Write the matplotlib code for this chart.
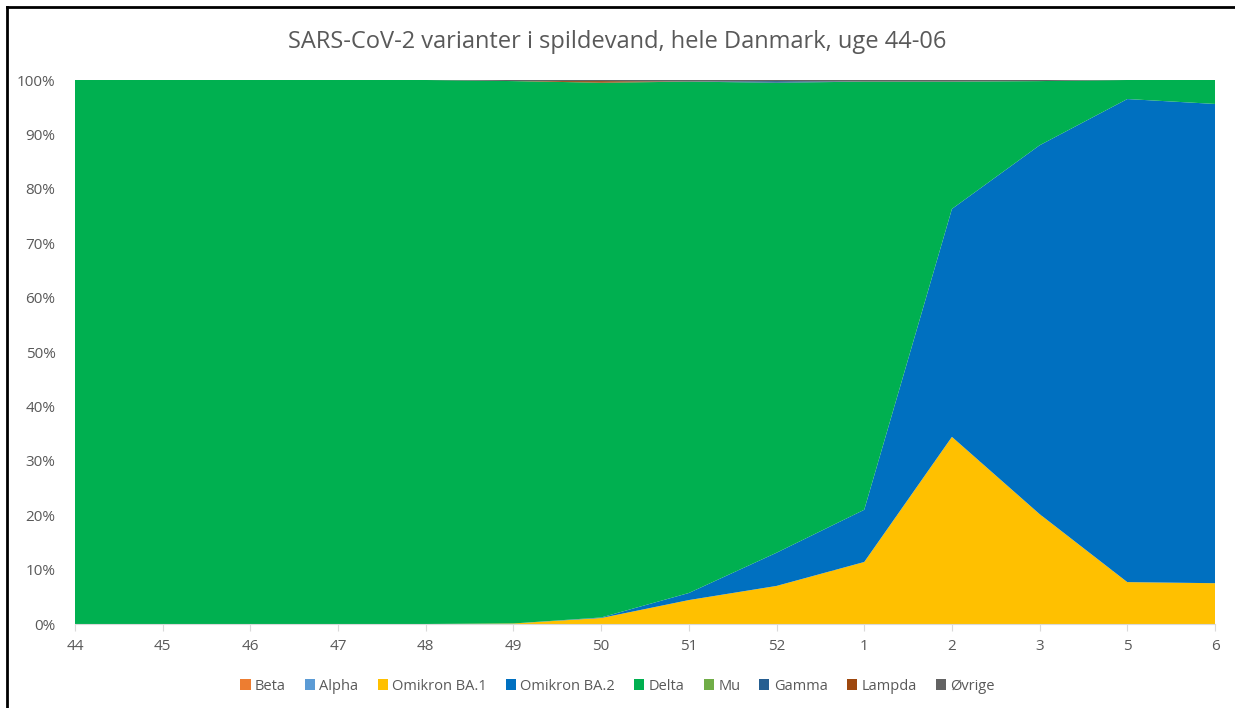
import matplotlib.pyplot as plt
import numpy as np
from matplotlib.lines import Line2D
from matplotlib.patches import Patch

weeks = ["44", "45", "46", "47", "48", "49", "50", "51", "52", "1", "2", "3", "5", "6"]

beta = [0, 0, 0, 0, 0, 0, 0, 0, 0, 0, 0, 0, 0, 0]
alpha = [0, 0, 0, 0, 0, 0, 0, 0, 0, 0, 0, 0, 0, 0]
ba1 = [0, 0, 0, 0, 0, 0.1, 1.1, 4.4, 7.0, 11.4, 34.4, 20.2, 7.7, 7.5]
ba2 = [0, 0, 0, 0, 0, 0, 0.1, 1.3, 6.1, 9.6, 41.9, 67.8, 88.8, 88.1]
delta = [100, 100, 100, 100, 100, 99.7, 98.3, 94.0, 86.4, 78.7, 23.4, 11.8, 3.5, 4.4]
mu = [0, 0, 0, 0, 0, 0, 0, 0, 0, 0, 0, 0, 0, 0]
gamma = [0, 0, 0, 0, 0, 0, 0, 0, 0.3, 0, 0, 0, 0, 0]
lampda = [0, 0, 0, 0, 0, 0, 0.3, 0, 0, 0, 0, 0, 0, 0]
ovrige = [0, 0, 0, 0, 0, 0.2, 0.2, 0.3, 0.2, 0.3, 0.3, 0.2, 0, 0]

labels = ["Beta", "Alpha", "Omikron BA.1", "Omikron BA.2", "Delta", "Mu", "Gamma", "Lampda", "Øvrige"]
colors = ["#ED7D31", "#5B9BD5", "#FFC000", "#0070C0", "#00B050", "#70AD47", "#255E91", "#9E480E", "#636363"]

series = [beta, alpha, ba1, ba2, delta, mu, gamma, lampda, ovrige]

plt.rcParams["font.family"] = ["Open Sans", "DejaVu Sans"]

fig = plt.figure(figsize=(12.35, 7.08), dpi=100)
ax = fig.add_axes([75 / 1235, 1 - 624 / 708, 1140 / 1235, 544 / 708])

x = np.arange(len(weeks))
ax.stackplot(x, *series, colors=colors, linewidth=0)

ax.set_xlim(0, len(weeks) - 1)
ax.set_ylim(0, 100)
ax.set_yticks(np.arange(0, 101, 10))
ax.set_yticklabels([f"{v}%" for v in range(0, 101, 10)])
ax.set_xticks(x)
ax.set_xticklabels(weeks)

ax.grid(axis="y", color="#D9D9D9", linewidth=0.8)
ax.set_axisbelow(True)
for s in ["top", "right", "left"]:
    ax.spines[s].set_visible(False)
ax.spines["bottom"].set_color("#D9D9D9")
ax.tick_params(axis="y", length=0, colors="#595959", labelsize=11, pad=14)
ax.tick_params(axis="x", length=5, color="#D9D9D9", colors="#595959", labelsize=11, pad=6)

fig.suptitle("SARS-CoV-2 varianter i spildevand, hele Danmark, uge 44-06",
             y=1 - 42 / 708, va="center", fontsize=17, color="#595959")

handles = [Patch(facecolor=c, edgecolor="none") for c in colors]
fig.legend(handles, labels, loc="center", bbox_to_anchor=(0.5, 1 - 686 / 708),
           ncol=9, frameon=False, fontsize=10.5, handlelength=0.7, handleheight=0.7,
           handletextpad=0.3, columnspacing=1.3, labelcolor="#595959")

# outer frame of the chart
fig.add_artist(Line2D([6.5 / 1235, 6.5 / 1235], [0, 1 - 7 / 708], color="black", linewidth=2))
fig.add_artist(Line2D([6.5 / 1235, 1], [1 - 7 / 708, 1 - 7 / 708], color="black", linewidth=2))

fig.savefig("out.png", dpi=100)
